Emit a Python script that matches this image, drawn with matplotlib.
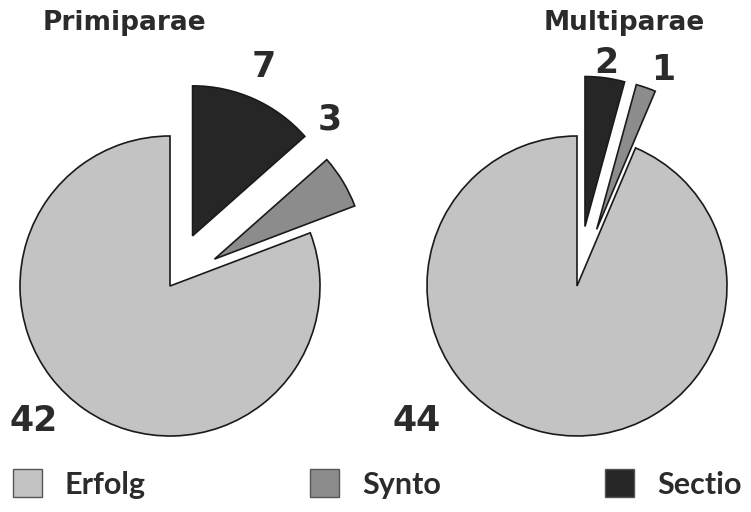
import matplotlib
matplotlib.use("Agg")
import matplotlib.pyplot as plt
from matplotlib.patches import Patch

categories = ["Sectio", "Synto", "Erfolg"]
primi_values = [7, 3, 42]
multi_values = [2, 1, 44]
titles = ["Primiparae", "Multiparae"]
legend_order = ["Erfolg", "Synto", "Sectio"]

colors = {"Erfolg": "#c3c3c3", "Synto": "#8c8c8c", "Sectio": "#262626"}
TXT = "#2b2b2b"
FONT = "DejaVu Sans"
LEGFONT = "Lato"

W, H = 751, 512
fig = plt.figure(figsize=(W / 100, H / 100), dpi=100)
ax = fig.add_axes([0, 0, 1, 1])

R = 150
pies = [
    dict(values=primi_values, center=(170, H - 286), explode=[55, 52, 0],
         title_xy=(124, H - 23),
         label_xy=[(264, H - 67), (330, H - 120), (34, H - 421)]),
    dict(values=multi_values, center=(577, H - 286), explode=[60, 60, 0],
         title_xy=(624, H - 23),
         label_xy=[(606, H - 63), (663, H - 70), (417, H - 421)]),
]

for p, title in zip(pies, titles):
    ax.pie(p["values"], colors=[colors[c] for c in categories],
           startangle=90, counterclock=False, radius=R, center=p["center"],
           explode=p["explode"], frame=True,
           wedgeprops=dict(edgecolor="#1a1a1a", linewidth=1.2))
    ax.text(*p["title_xy"], title, ha="center", va="center", fontsize=19,
            fontweight="bold", color=TXT, family=FONT)
    for v, xy in zip(p["values"], p["label_xy"]):
        ax.text(*xy, str(v), ha="center", va="center", fontsize=25,
                fontweight="bold", color=TXT, family=FONT)

ax.set_xlim(0, W)
ax.set_ylim(0, H)
ax.set_aspect("equal")
ax.axis("off")

legend_x = [13, 310, 605]
for name, lx in zip(legend_order, legend_x):
    h = Patch(facecolor=colors[name], edgecolor="#555555", linewidth=1.0)
    leg = fig.legend([h], [name], loc="center left",
                     bbox_to_anchor=(lx / W, 1 - 484 / H), frameon=False,
                     prop=dict(family=LEGFONT, weight="bold", size=22),
                     handlelength=0.95, handleheight=1.0, handletextpad=0.75,
                     borderpad=0, borderaxespad=0)
    for t in leg.get_texts():
        t.set_color(TXT)

fig.savefig("out.png", dpi=100)
